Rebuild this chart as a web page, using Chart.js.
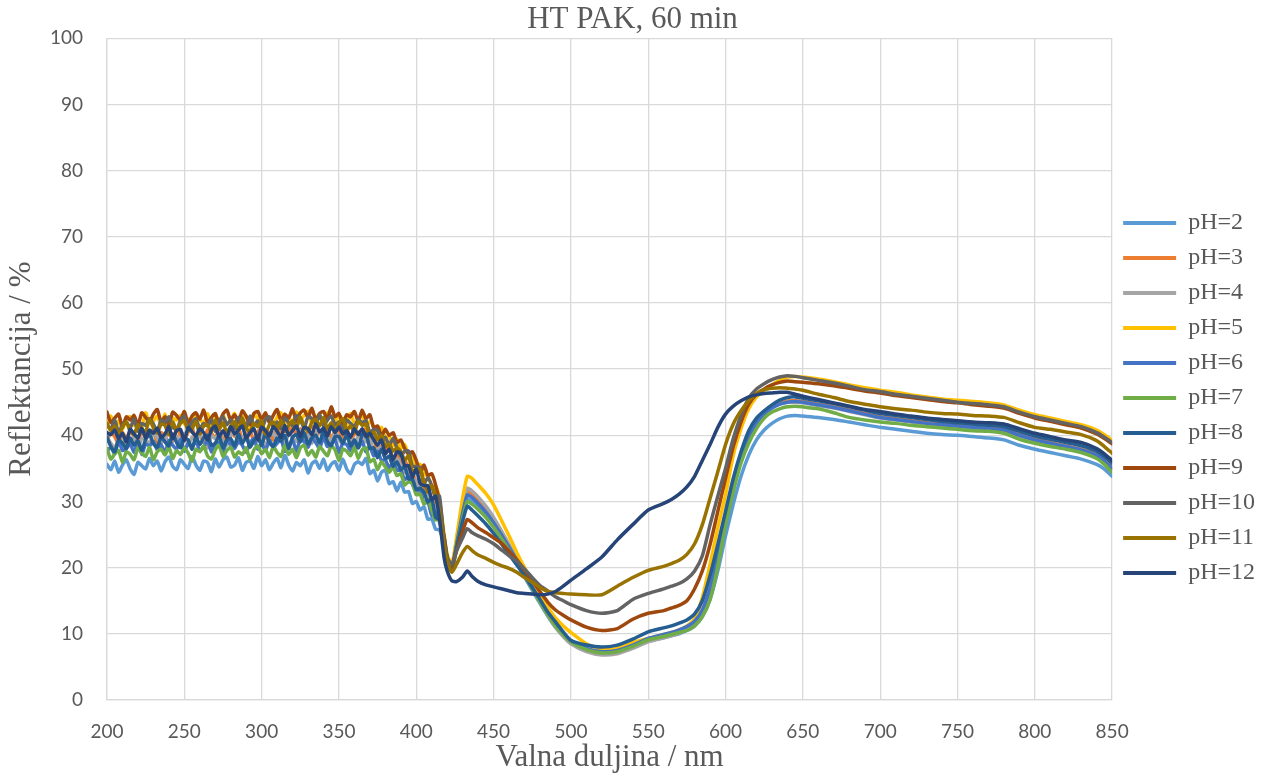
<!DOCTYPE html>
<html><head><meta charset="utf-8">
<script src="https://cdn.jsdelivr.net/npm/chart.js@4.4.1/dist/chart.umd.min.js"></script>
<style>html,body{margin:0;padding:0;background:#fff;}#wrap{width:1271px;height:778px;}</style>
</head><body><div id="wrap"><canvas id="c" width="1271" height="778"></canvas></div>
<script>
// ---- DATA ----
const wavelengths = [
  200,202.5,205,207.5,210,212.5,215,217.5,220,222.5,
  225,227.5,230,232.5,235,237.5,240,242.5,245,247.5,
  250,252.5,255,257.5,260,262.5,265,267.5,270,272.5,
  275,277.5,280,282.5,285,287.5,290,292.5,295,297.5,
  300,302.5,305,307.5,310,312.5,315,317.5,320,322.5,
  325,327.5,330,332.5,335,337.5,340,342.5,345,347.5,
  350,352.5,355,357.5,360,362.5,365,367.5,370,372.5,
  375,377.5,380,382.5,385,387.5,390,392.5,395,397.5,
  400,402.5,405,407.5,410,412.5,415,
  418,420,423,426,430,433,436,440,
  445,450,455,460,465,470,475,480,485,490,495,500,
  510,520,530,540,550,560,
  565,570,575,580,585,590,595,600,605,610,615,620,625,630,635,640,645,650,
  660,670,680,690,700,710,720,730,740,750,760,770,780,790,800,810,820,830,840,
  845,850
];

const seriesLabels = ['pH=2','pH=3','pH=4','pH=5','pH=6','pH=7','pH=8','pH=9','pH=10','pH=11','pH=12'];

const pH2 = [
  35.6,34.8,36.1,34.4,35.5,36.3,34.9,34.1,35.9,35.4,
  34.9,36.5,35.4,36.1,34.6,36.0,36.7,35.3,34.8,36.3,
  35.6,35.0,36.8,35.5,34.7,36.1,35.9,34.5,36.4,35.2,
  36.3,36.7,35.2,35.5,36.6,34.7,35.9,36.1,35.0,36.8,
  35.4,36.3,34.8,35.8,36.5,35.1,37.0,35.5,34.6,35.9,
  35.4,36.3,34.3,35.7,36.1,35.0,36.4,34.7,35.6,36.0,
  34.7,36.4,34.9,34.2,35.6,36.0,35.6,36.5,34.2,34.7,
  33.1,34.4,34.7,32.7,33.0,31.6,32.9,31.4,31.5,29.7,
  30.0,28.7,29.2,27.3,27.4,25.8,25.7,
  23.5,20.5,19.5,22.8,27.8,30.4,30.0,29.2,
  27.9,26.3,24.5,22.6,20.6,18.6,16.6,14.6,12.7,11.0,9.7,8.6,
  7.5,7.0,7.2,8.0,8.9,9.4,
  9.7,10.0,10.5,11.2,12.6,15.2,19.5,24.8,29.6,33.8,37.0,39.3,40.8,41.8,42.5,42.9,43.0,42.9,
  42.7,42.4,42.0,41.6,41.2,40.9,40.6,40.3,40.1,40.0,39.8,39.6,39.3,38.5,37.9,37.4,36.9,36.4,35.6,
  34.9,33.8
];
const pH3 = [
  39.3,40.3,39.8,38.7,40.4,39.5,40.6,40.0,38.9,40.8,
  39.5,40.2,40.8,38.8,40.4,39.9,40.6,39.1,41.0,40.0,
  39.4,40.5,41.2,39.3,40.1,38.9,40.8,40.3,39.6,40.9,
  39.2,40.3,40.8,39.8,41.2,39.3,40.1,40.7,39.1,40.5,
  41.1,39.6,40.4,39.3,41.0,40.2,38.9,40.6,41.2,40.0,
  41.0,39.5,40.6,41.5,39.8,40.8,40.2,41.3,39.4,40.7,
  40.7,39.6,41.0,39.2,40.2,40.5,39.7,41.2,39.1,39.5,
  37.4,38.4,37.7,38.2,36.4,37.3,35.9,36.5,34.4,34.5,
  32.6,33.3,32.1,32.1,30.2,30.0,27.8,
  24.6,21.6,20.1,23.8,29.0,31.6,31.2,30.3,
  28.9,27.3,25.4,23.4,21.3,19.2,17.0,14.9,12.9,11.1,9.8,8.7,
  7.5,7.0,7.2,8.0,9.0,9.6,
  9.9,10.3,10.9,11.8,13.6,17.0,22.0,27.4,32.5,36.9,40.2,42.2,43.5,44.4,44.9,45.2,45.2,45.1,
  44.7,44.3,43.8,43.3,42.8,42.5,42.2,41.9,41.7,41.5,41.3,41.1,40.9,40.1,39.4,38.9,38.4,37.9,37.1,
  36.2,35.1
];
const pH4 = [
  39.8,38.8,38.1,39.4,40.0,38.4,39.2,39.7,37.9,39.5,
  39.4,38.6,40.4,39.6,38.8,40.2,38.3,39.5,39.9,39.0,
  40.3,38.5,39.7,39.1,40.1,39.3,38.1,39.9,39.5,40.4,
  39.0,38.5,39.9,40.6,38.8,39.7,40.2,38.7,39.5,39.1,
  40.1,38.3,39.8,40.4,39.2,39.9,38.6,40.3,39.7,39.1,
  40.8,39.4,40.1,38.8,40.3,40.7,39.2,39.9,38.9,40.5,
  39.4,38.7,40.2,39.6,38.3,40.0,40.1,39.0,39.7,37.5,
  37.9,38.1,36.4,36.9,35.4,36.5,35.5,34.4,34.9,33.3,
  33.2,31.3,31.7,31.3,29.6,29.2,26.8,
  24.8,21.8,20.3,24.0,29.3,32.0,31.6,30.7,
  29.3,27.6,25.6,23.5,21.3,19.1,16.9,14.8,12.8,11.0,9.6,8.5,
  7.3,6.8,7.0,7.8,8.8,9.4,
  9.7,10.1,10.7,11.6,13.4,16.8,21.8,27.2,32.3,36.7,40.0,42.0,43.3,44.2,44.7,45.0,45.0,44.9,
  44.5,44.1,43.6,43.1,42.6,42.3,42.0,41.7,41.5,41.3,41.1,40.9,40.7,39.9,39.2,38.7,38.2,37.7,36.9,
  36.0,34.9
];
const pH5 = [
  41.7,42.9,41.2,42.2,40.9,42.5,42.8,41.5,42.1,41.1,
  43.4,41.9,42.2,42.9,41.6,43.2,41.3,42.6,42.3,43.0,
  41.7,42.5,41.2,43.1,42.4,41.8,43.3,41.5,42.7,42.2,
  43.1,41.7,42.2,43.3,41.5,42.7,42.9,41.2,43.2,42.5,
  41.9,43.0,42.4,41.3,42.8,43.4,41.8,42.6,41.9,43.5,
  42.4,43.0,43.6,41.8,42.6,43.2,41.5,43.4,42.9,42.1,
  43.1,42.4,41.5,43.3,41.8,42.2,43.3,41.3,42.1,41.4,
  40.0,41.2,39.6,39.9,38.4,39.4,38.0,38.6,37.0,36.8,
  35.0,35.6,34.1,33.9,32.3,32.3,30.3,
  25.0,22.0,20.5,24.5,30.5,33.8,33.5,32.5,
  31.2,29.5,27.2,24.8,22.3,20.0,17.8,15.7,14.0,12.4,11.2,10.2,
  8.5,7.6,7.8,8.7,9.3,9.9,
  10.2,10.6,11.2,12.3,15.5,20.5,26.0,31.0,37.0,41.0,44.0,45.8,46.8,47.6,48.3,48.8,48.9,48.8,
  48.5,48.1,47.6,47.2,46.8,46.5,46.1,45.8,45.5,45.3,45.1,44.9,44.6,43.8,43.1,42.6,42.1,41.6,40.8,
  40.1,39.2
];
const pH6 = [
  37.6,38.2,37.2,39.2,37.7,38.0,38.7,37.4,39.0,37.1,
  38.7,38.4,39.1,37.8,38.6,37.3,39.2,38.5,37.9,39.4,
  37.6,38.8,38.3,39.1,37.7,38.2,39.3,37.5,38.7,38.9,
  37.3,39.3,38.6,38.0,39.1,38.5,37.4,38.9,39.5,37.9,
  38.7,37.7,39.3,38.2,38.8,39.4,37.6,38.4,39.3,37.6,
  39.5,39.0,38.2,39.6,38.9,38.0,39.8,38.3,38.7,39.4,
  37.4,38.8,38.6,37.7,39.3,38.1,39.1,37.5,38.3,36.9,
  37.6,36.2,36.3,35.0,36.0,34.7,34.7,33.3,33.8,32.6,
  31.5,32.0,29.7,30.0,27.9,28.4,27.2,
  24.5,21.5,20.0,23.5,28.3,31.0,30.6,29.7,
  28.4,26.8,25.0,23.1,21.1,19.1,17.0,15.0,13.1,11.4,10.1,9.0,
  7.8,7.3,7.5,8.3,9.3,9.9,
  10.2,10.6,11.1,11.9,13.6,16.8,21.5,26.8,31.8,36.3,39.7,41.8,43.2,44.1,44.7,45.0,45.1,45.0,
  44.6,44.2,43.7,43.2,42.7,42.4,42.1,41.8,41.6,41.4,41.2,41.0,40.8,40.0,39.3,38.8,38.3,37.8,37.0,
  36.1,35.0
];
const pH7 = [
  38.0,36.4,37.2,37.7,35.9,37.5,37.1,36.3,38.1,37.3,
  36.8,38.2,36.3,37.5,37.9,37.0,38.3,36.5,37.7,37.1,
  38.1,37.3,36.1,37.9,37.5,38.4,36.9,36.4,37.8,38.5,
  36.8,37.7,38.2,36.7,37.5,37.1,38.1,36.3,37.8,38.4,
  37.2,37.9,36.6,38.3,37.4,36.8,38.5,37.1,37.9,36.6,
  38.1,38.5,37.0,37.7,36.7,38.3,37.6,36.9,38.4,37.8,
  36.2,37.9,37.6,36.9,38.2,36.5,37.8,38.1,36.0,36.4,
  34.8,36.0,35.2,34.4,35.2,33.9,34.2,32.5,33.0,32.7,
  31.0,31.1,29.6,30.3,28.7,27.2,27.5,
  24.0,21.0,19.8,23.0,27.5,30.0,29.6,28.8,
  27.6,26.1,24.4,22.6,20.7,18.8,16.8,14.8,12.9,11.2,9.9,8.8,
  7.6,7.1,7.3,8.1,9.1,9.6,
  9.9,10.2,10.5,11.2,12.6,15.2,20.2,26.5,31.5,35.8,38.8,41.0,42.6,43.5,44.0,44.3,44.4,44.3,
  44.0,43.4,42.7,42.3,42.0,41.8,41.5,41.3,41.1,40.9,40.7,40.6,40.3,39.4,38.8,38.3,37.9,37.4,36.5,
  35.6,34.4
];
const pH8 = [
  39.7,38.3,37.5,39.3,38.8,38.0,39.6,38.5,39.2,37.7,
  39.4,40.1,38.7,38.2,39.7,39.0,38.4,40.2,38.9,38.1,
  39.5,39.3,37.9,39.8,38.6,39.6,40.0,38.5,38.8,39.9,
  38.1,39.3,39.5,38.4,40.2,38.8,39.7,38.2,39.2,39.9,
  38.5,40.4,38.9,38.3,39.6,39.1,40.0,38.0,39.7,40.1,
  39.0,40.4,38.7,39.6,40.0,38.9,40.6,39.1,38.4,39.8,
  39.8,38.8,40.1,38.4,39.3,38.1,40.1,40.3,38.0,38.1,
  36.6,37.9,36.5,36.8,35.3,36.0,34.8,35.3,33.4,33.4,
  31.8,32.0,31.4,29.9,30.4,27.6,27.2,
  24.5,21.5,20.0,23.0,27.0,29.3,28.7,27.8,
  26.6,25.2,23.6,22.0,20.4,18.8,17.0,15.2,13.3,11.8,10.3,9.0,
  8.3,8.0,8.3,9.2,10.3,10.9,
  11.2,11.6,12.1,13.0,15.0,18.8,23.5,28.5,33.5,37.5,40.7,42.6,43.7,44.6,45.3,45.7,45.8,45.6,
  45.2,44.8,44.3,43.8,43.3,43.0,42.7,42.4,42.1,41.9,41.7,41.5,41.3,40.6,39.9,39.4,38.9,38.4,37.6,
  36.8,35.8
];
const pH9 = [
  43.5,41.9,42.6,43.2,41.2,42.8,42.3,43.0,41.5,43.4,
  42.7,42.1,43.2,43.9,42.0,42.8,41.6,43.5,43.0,42.3,
  43.6,41.8,42.9,43.4,42.4,43.8,41.9,42.7,43.3,41.7,
  43.2,43.8,42.3,43.1,42.0,43.7,42.9,41.6,43.3,43.6,
  42.4,43.4,41.9,43.0,43.9,42.2,43.2,42.6,44.0,42.1,
  43.4,43.8,42.7,44.1,42.3,43.3,43.6,42.4,44.3,42.8,
  43.3,41.7,43.1,42.8,43.6,42.1,43.8,42.5,43.1,41.1,
  41.4,39.9,40.9,40.0,40.4,38.9,39.3,38.0,37.2,37.5,
  36.2,34.4,35.5,33.9,34.2,32.5,29.9,
  24.5,21.5,20.3,22.5,25.5,27.3,26.8,26.0,
  25.3,24.5,23.7,22.5,21.2,19.6,18.0,16.4,14.8,13.6,12.8,12.1,
  11.0,10.5,10.8,12.2,13.1,13.5,
  13.9,14.3,15.0,16.8,19.5,23.5,28.5,33.5,38.3,42.0,44.7,46.2,47.0,47.6,48.0,48.2,48.1,48.0,
  47.8,47.5,47.1,46.7,46.4,46.0,45.7,45.4,45.1,44.9,44.6,44.4,44.1,43.3,42.6,42.1,41.6,41.1,40.2,
  39.5,38.7
];
const pH10 = [
  41.7,40.9,42.3,40.4,41.6,42.0,41.1,42.4,40.6,41.8,
  41.5,42.5,41.7,40.5,42.3,41.9,42.8,41.3,40.8,42.2,
  42.9,41.1,42.0,42.5,41.0,41.8,41.4,42.4,40.6,42.1,
  42.8,41.6,42.3,41.0,42.7,41.8,41.2,42.9,41.5,42.2,
  40.9,42.4,42.8,41.3,42.0,41.0,42.6,41.9,41.5,43.0,
  42.4,41.1,42.8,42.5,41.8,43.1,41.4,42.3,42.9,41.6,
  42.0,40.8,42.3,41.8,41.3,42.4,41.9,42.2,40.4,40.9,
  40.7,39.4,39.7,38.5,39.5,38.1,36.9,37.6,37.6,35.3,
  35.3,35.1,32.7,33.6,32.4,30.5,30.8,
  24.0,21.5,20.5,22.5,24.5,25.9,25.3,24.8,
  24.3,23.6,22.7,21.8,21.0,19.8,18.5,17.3,16.5,15.6,15.0,14.4,
  13.5,13.1,13.5,15.2,16.1,16.8,
  17.2,17.6,18.3,19.5,21.8,26.5,30.8,35.0,39.5,43.0,45.6,47.0,47.8,48.4,48.8,49.0,48.9,48.7,
  48.3,47.9,47.4,46.9,46.6,46.2,45.9,45.6,45.3,45.0,44.8,44.6,44.3,43.5,42.8,42.3,41.8,41.3,40.4,
  39.7,38.9
];
const pH11 = [
  41.8,40.7,41.4,39.9,41.3,42.0,40.6,40.1,41.6,40.9,
  40.6,42.4,41.1,40.3,41.7,41.5,40.1,42.0,40.8,41.8,
  42.2,40.7,41.0,42.1,40.2,41.4,41.6,40.5,42.3,40.9,
  41.9,40.4,41.4,42.1,40.7,42.6,41.1,40.5,41.8,41.3,
  42.2,40.2,41.6,42.0,40.9,42.3,40.6,41.5,42.2,41.1,
  42.8,41.3,40.6,42.0,42.4,41.4,42.7,41.0,41.9,40.7,
  41.9,42.5,40.8,41.4,40.4,42.1,41.5,41.7,39.9,40.5,
  39.3,40.0,38.3,38.7,37.6,38.1,37.6,36.2,36.9,34.5,
  34.8,34.9,32.9,31.4,32.4,30.8,28.5,
  23.5,21.0,19.3,20.5,22.3,23.2,22.6,21.9,
  21.4,20.8,20.3,19.9,19.3,18.5,17.8,17.0,16.4,16.2,16.1,16.0,
  15.9,15.9,17.2,18.5,19.6,20.2,
  20.6,21.1,22.0,23.6,26.5,30.5,34.5,38.6,41.7,43.7,45.2,46.3,46.9,47.1,47.2,47.1,47.0,46.8,
  46.2,45.7,45.1,44.7,44.3,44.0,43.8,43.5,43.3,43.2,43.0,42.9,42.7,41.9,41.2,40.9,40.5,40.1,39.2,
  38.3,37.3
];
const pH12 = [
  40.4,40.1,40.8,39.5,40.3,39.0,40.9,40.2,39.6,41.1,
  39.6,40.8,40.3,41.1,39.7,40.2,41.3,39.5,40.7,40.9,
  39.2,41.2,40.5,39.9,41.0,40.4,39.3,40.8,41.4,39.8,
  40.7,39.7,41.3,40.2,40.8,41.4,39.6,40.4,41.0,39.3,
  41.2,40.7,39.9,41.3,40.6,39.7,41.5,40.0,40.7,41.4,
  39.8,41.2,41.0,40.1,41.7,40.5,41.1,39.9,41.3,40.4,
  41.2,40.2,40.7,39.7,41.0,40.1,41.0,39.8,40.3,39.3,
  38.5,39.3,37.2,37.9,36.3,37.5,37.3,35.4,35.4,33.7,
  34.9,32.7,32.4,32.4,30.3,30.8,27.4,
  21.5,19.5,18.0,17.9,18.6,19.5,18.7,17.9,
  17.4,17.1,16.8,16.5,16.2,16.1,16.0,15.9,16.0,16.4,17.2,18.1,
  19.8,21.6,24.2,26.5,28.7,29.7,
  30.3,31.1,32.2,33.8,36.2,38.6,41.2,43.2,44.4,45.2,45.8,46.1,46.3,46.4,46.5,46.5,46.2,45.9,
  45.4,44.9,44.4,43.9,43.6,43.2,42.9,42.6,42.4,42.2,42.0,41.9,41.7,41.0,40.3,39.8,39.3,38.9,38.0,
  37.2,36.2
];

const seriesValues = [pH2, pH3, pH4, pH5, pH6, pH7, pH8, pH9, pH10, pH11, pH12];

// ---- STYLE ----
const seriesColors = ['#5B9BD5','#ED7D31','#A5A5A5','#FFC000','#4472C4','#70AD47','#255E91','#9E480E','#636363','#997300','#264478'];
const textColor = '#595959';
const gridColor = '#D9D9D9';

const datasets = seriesValues.map((vals, i) => ({
  label: seriesLabels[i],
  data: wavelengths.map((x, j) => ({ x: x, y: vals[j] })),
  borderColor: seriesColors[i],
  backgroundColor: seriesColors[i],
  borderWidth: 3.5,
  pointRadius: 0,
  pointHoverRadius: 0,
  tension: 0.2,
  borderCapStyle: 'round',
  borderJoinStyle: 'round',
  fill: false,
  order: seriesValues.length - i
}));

new Chart(document.getElementById('c'), {
  type: 'line',
  data: { datasets: datasets },
  options: {
    responsive: false,
    animation: false,
    devicePixelRatio: 1,
    layout: { padding: { left: 0, right: 6, top: 0, bottom: 0 } },
    plugins: {
      title: {
        display: true,
        text: 'HT PAK, 60 min',
        color: textColor,
        font: { family: 'Liberation Serif', size: 31, weight: 'normal' },
        padding: { top: 1, bottom: 0 }
      },
      legend: {
        position: 'right',
        title: { display: true, text: '', font: { size: 10 }, padding: { top: 3, bottom: 3 } },
        labels: {
          color: textColor,
          font: { family: 'Liberation Serif', size: 24 },
          boxWidth: 53,
          boxHeight: 4,
          padding: 11,
          generateLabels: (chart) => chart.data.datasets.map((ds, i) => ({
            text: ds.label,
            fillStyle: ds.borderColor,
            strokeStyle: ds.borderColor,
            lineWidth: 0,
            hidden: false,
            datasetIndex: i,
            fontColor: textColor
          }))
        }
      },
      tooltip: { enabled: false }
    },
    scales: {
      x: {
        type: 'linear',
        min: 200, max: 850,
        ticks: { stepSize: 50, color: textColor, font: { family: 'Lato', size: 19 }, padding: 20, maxRotation: 0, autoSkip: false },
        grid: { color: gridColor, lineWidth: 1.3, drawTicks: false },
        border: { color: gridColor, width: 1.3 },
        title: { display: true, text: 'Valna duljina / nm', color: textColor, font: { family: 'Liberation Serif', size: 31 }, padding: { top: 0, bottom: 2 } },
        afterFit: (s) => { s.height = 78; }
      },
      y: {
        min: 0, max: 100,
        ticks: { stepSize: 10, color: textColor, font: { family: 'Lato', size: 19 }, padding: 24 },
        grid: { color: gridColor, lineWidth: 1.3, drawTicks: false },
        border: { color: gridColor, width: 1.3 },
        title: { display: true, text: 'Reflektancija / %', color: textColor, font: { family: 'Liberation Serif', size: 31 }, padding: { top: 3, bottom: 0 } },
        afterFit: (s) => { s.width = 107; }
      }
    }
  }
});
</script></body></html>
